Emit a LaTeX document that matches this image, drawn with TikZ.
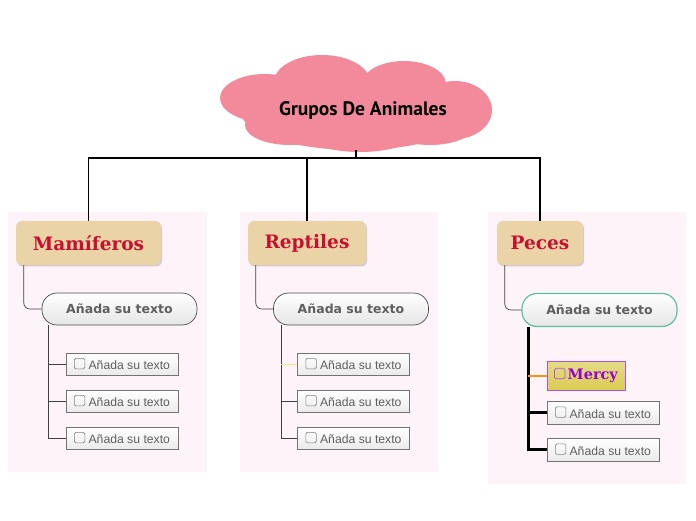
\documentclass[tikz,border=0pt]{standalone}
\usepackage{fontspec}
\setmainfont{Liberation Sans}
\newfontfamily\rootfont{PT Sans}
\newfontfamily\topicfont{DejaVu Serif}
\newfontfamily\pillfont{DejaVu Sans}
\usetikzlibrary{shadows}
\definecolor{panelColor}{RGB}{255,243,250}
\definecolor{cloudColor}{RGB}{243,138,155}
\definecolor{topicColor}{RGB}{234,211,166}
\definecolor{topicText}{RGB}{200,16,46}
\definecolor{leafText}{RGB}{95,95,95}
\definecolor{tealColor}{RGB}{90,192,160}
\definecolor{mercyFill}{RGB}{218,204,82}
\definecolor{mercyText}{RGB}{150,0,220}
\definecolor{mercyDraw}{RGB}{180,80,230}
\definecolor{orangeColor}{RGB}{245,150,20}
\definecolor{yellowColor}{RGB}{245,226,122}
\newcommand{\chkbox}[1][gray]{\tikz[baseline=-1pt]\draw[#1,line width=0.7pt,rounded corners=1.5pt] (0,0) rectangle (10.5pt,10.5pt);}
\begin{document}
\begin{tikzpicture}[x=1pt,y=1pt,
  panel/.style={fill=panelColor,draw=none},
  puff/.style={fill=cloudColor,draw=none},
  trunk/.style={draw=black,line width=1.8pt},
  twig/.style={draw=black!75,line width=0.7pt},
  topic/.style={draw=none,fill=topicColor,rounded corners=6pt,minimum height=44pt,
    text=topicText,font=\topicfont\bfseries\fontsize{18.5}{22}\selectfont,
    drop shadow={shadow xshift=1pt,shadow yshift=-1.5pt,opacity=0.35}},
  pill/.style={draw=black!70,line width=0.7pt,rounded corners=15pt,minimum width=155pt,minimum height=32pt,
    top color=white,bottom color=black!10,text=leafText,font=\pillfont\bfseries\fontsize{12.5}{14}\selectfont},
  leaf/.style={draw=black!55,line width=0.7pt,minimum width=112pt,minimum height=22pt,inner sep=2pt,
    top color=white,bottom color=black!8,text=leafText,font=\fontsize{12.2}{14}\selectfont}]
\path[use as bounding box,fill=white] (0,0) rectangle (696,520);

\path[panel] (8,48) rectangle (207,308);
\path[panel] (240,48) rectangle (438,308);
\path[panel] (488,36) rectangle (686,308);

\path[puff] (356,408) ellipse [x radius=115,y radius=38];
\path[puff] (265,422) ellipse [x radius=45,y radius=24];
\path[puff] (322,438) ellipse [x radius=48,y radius=27];
\path[puff] (404,436) ellipse [x radius=42,y radius=23];
\path[puff] (455,410) ellipse [x radius=37,y radius=29];
\path[puff] (290,395) ellipse [x radius=45,y radius=20];
\path[puff] (430,395) ellipse [x radius=45,y radius=20];
\path[puff] (360,390) ellipse [x radius=60,y radius=22];
\node[font=\rootfont\bfseries\fontsize{19.5}{22}\selectfont,text=black,inner sep=0pt] (root) at (363,410) {Grupos De Animales};
\coordinate (cloudBase) at (356,370);

\coordinate (hub) at (356,362);
\node[topic,minimum width=145pt] (mam) at (88.5,277) {Mamíferos};
\node[topic,minimum width=118pt] (rep) at (307,277) {Reptiles};
\node[topic,minimum width=86pt] (pec) at (540,277) {Peces};

\draw[trunk] (cloudBase) -- (hub);
\draw[trunk] (mam.north) |- (hub) -| (pec.north);
\draw[trunk] (rep.north) -- (rep.north |- hub);

\node[pill] (mamSub) at (119.5,211) {Añada su texto};
\node[pill] (repSub) at (351,211) {Añada su texto};
\node[pill,draw=tealColor,line width=1.2pt,minimum height=33pt] (pecSub) at (599.5,210) {Añada su texto};

\draw[twig,rounded corners=6pt] ([xshift=8pt]mam.south west) |- (mamSub.west);
\draw[twig,rounded corners=6pt] ([xshift=8pt]rep.south west) |- (repSub.west);
\draw[twig,rounded corners=6pt] ([xshift=8pt]pec.south west) |- (pecSub.west);

\node[leaf] (mamA) at (122,156) {\chkbox\ Añada su texto};
\node[leaf] (mamB) at (122,119) {\chkbox\ Añada su texto};
\node[leaf] (mamC) at (122,82) {\chkbox\ Añada su texto};
\node[leaf] (repA) at (353.5,156) {\chkbox\ Añada su texto};
\node[leaf] (repB) at (353.5,119) {\chkbox\ Añada su texto};
\node[leaf] (repC) at (353.5,82) {\chkbox\ Añada su texto};
\node[leaf,minimum width=78pt,minimum height=29pt,draw=mercyDraw,top color=mercyFill!70!white,bottom color=mercyFill,
  text=mercyText,font=\topicfont\bfseries\fontsize{14.5}{16}\selectfont] (pecA) at (586,144.5) {\chkbox[mercyDraw]\,Mercy};
\node[leaf,minimum height=23pt] (pecB) at (603,107.5) {\chkbox\ Añada su texto};
\node[leaf,minimum height=23pt] (pecC) at (603,70.5) {\chkbox\ Añada su texto};

\draw[twig] ([xshift=7pt]mamSub.south west) |- (mamC.west);
\draw[twig] ([xshift=7pt]mamSub.south west |- mamA.west) -- (mamA.west);
\draw[twig] ([xshift=7pt]mamSub.south west |- mamB.west) -- (mamB.west);

\draw[twig] ([xshift=8pt]repSub.south west) |- (repC.west);
\draw[twig,draw=yellowColor,line width=1pt] ([xshift=8pt]repSub.south west |- repA.west) -- (repA.west);
\draw[twig] ([xshift=8pt]repSub.south west |- repB.west) -- (repB.west);

\draw[trunk,line width=2.2pt] ([xshift=7pt]pecSub.south west) |- (pecC.west);
\draw[trunk,line width=2.2pt] ([xshift=7pt]pecSub.south west |- pecB.west) -- (pecB.west);
\draw[trunk,draw=orangeColor,line width=2pt] ([xshift=7pt]pecSub.south west |- pecA.west) -- (pecA.west);
\end{tikzpicture}
\end{document}
